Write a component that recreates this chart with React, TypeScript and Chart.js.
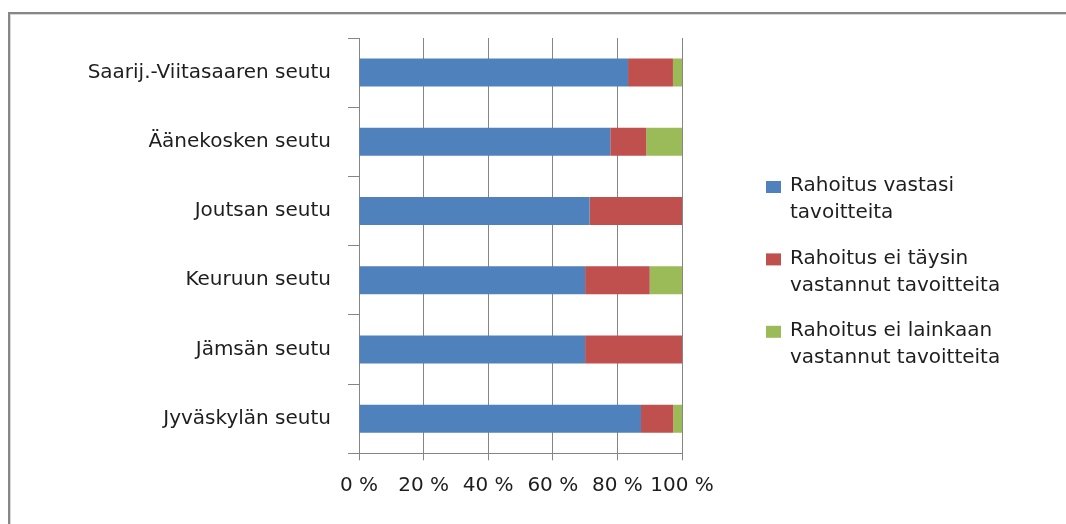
import React, { useEffect, useRef } from "react";
import { Chart, registerables } from "chart.js";

Chart.register(...registerables);

const categories = [
  "Saarij.-Viitasaaren seutu",
  "Äänekosken seutu",
  "Joutsan seutu",
  "Keuruun seutu",
  "Jämsän seutu",
  "Jyväskylän seutu",
];
const seriesNames = [
  "Rahoitus vastasi tavoitteita",
  "Rahoitus ei täysin vastannut tavoitteita",
  "Rahoitus ei lainkaan vastannut tavoitteita",
];
const legendLines = [
  ["Rahoitus vastasi", "tavoitteita"],
  ["Rahoitus ei täysin", "vastannut tavoitteita"],
  ["Rahoitus ei lainkaan", "vastannut tavoitteita"],
];
const metValues = [83.3, 77.8, 71.4, 70.0, 70.0, 87.3];
const partlyValues = [13.9, 11.1, 28.6, 20.0, 30.0, 10.0];
const notAtAllValues = [2.8, 11.1, 0, 10.0, 0, 2.7];
const xTickValues = [0, 20, 40, 60, 80, 100];
const seriesColors = ["#4F81BD", "#C0504D", "#9BBB59"];

const FONT = "'DejaVu Sans', sans-serif";
const TEXT = "#1e1e1e";
const GRID = "#858585";
const W = 1058;
const H = 516;

const sideLegend = {
  id: "sideLegend",
  afterDraw(chart: any) {
    const ctx = chart.ctx;
    const area = chart.chartArea;
    const boxX = area.right + 84;
    const textX = boxX + 24;
    const firstY = 178;
    const itemGap = 72.4;
    const lineGap = 27;
    ctx.save();
    ctx.font = `20px ${FONT}`;
    ctx.textBaseline = "middle";
    ctx.textAlign = "left";
    chart.data.datasets.forEach((ds: any, i: number) => {
      const cy = firstY + i * itemGap;
      ctx.fillStyle = ds.backgroundColor;
      ctx.fillRect(boxX, cy - 5, 15, 12);
      ctx.fillStyle = TEXT;
      const lines = legendLines[i] || [ds.label];
      lines.forEach((ln: string, j: number) => {
        ctx.fillText(ln, textX, cy + j * lineGap);
      });
    });
    ctx.restore();
  },
};

export default function App() {
  const ref = useRef<HTMLCanvasElement | null>(null);

  useEffect(() => {
    if (!ref.current) return;
    const seriesValues = [metValues, partlyValues, notAtAllValues];
    const chart = new Chart(ref.current, {
      type: "bar",
      data: {
        labels: categories,
        datasets: seriesValues.map((vals, i) => ({
          label: seriesNames[i],
          data: vals,
          backgroundColor: seriesColors[i],
          borderWidth: 0,
          categoryPercentage: 1,
          barPercentage: 0.405,
        })),
      },
      options: {
        indexAxis: "y",
        responsive: false,
        animation: false,
        layout: { padding: { top: 30, right: 384, left: 0, bottom: 0 } },
        plugins: {
          legend: { display: false },
          tooltip: { enabled: false },
          title: { display: false },
        },
        scales: {
          x: {
            stacked: true,
            min: 0,
            max: 100,
            afterBuildTicks: (scale: any) => {
              scale.ticks = xTickValues.map((v) => ({ value: v }));
            },
            afterFit: (scale: any) => {
              scale.height = 70.7;
            },
            ticks: {
              autoSkip: false,
              maxRotation: 0,
              minRotation: 0,
              padding: 13,
              color: TEXT,
              font: { family: FONT, size: 20 },
              callback: (v: any) => `${v} %`,
            },
            grid: {
              color: GRID,
              lineWidth: 1,
              drawTicks: true,
              tickLength: 7,
            },
            border: { display: true, color: GRID, width: 1 },
          },
          y: {
            stacked: true,
            afterFit: (scale: any) => {
              scale.width = 351;
            },
            ticks: {
              padding: 17,
              color: TEXT,
              font: { family: FONT, size: 20 },
            },
            grid: {
              offset: true,
              drawOnChartArea: false,
              drawTicks: true,
              tickLength: 11,
              color: GRID,
              lineWidth: 1,
            },
            border: { display: true, color: GRID, width: 1 },
          },
        },
      },
      plugins: [sideLegend],
    } as any);
    return () => chart.destroy();
  }, []);

  return (
    <div>
      <div
        style={{
          position: "fixed",
          left: 8,
          top: 12,
          width: 1400,
          height: 900,
          borderTop: "2px solid #878787",
          borderLeft: "2px solid #878787",
          boxShadow: "inset 1px 1px 0 #d6d6d6",
          boxSizing: "border-box",
          background: "#ffffff",
        }}
      />
      <canvas
        ref={ref}
        width={W}
        height={H}
        style={{ position: "fixed", left: 8, top: 8, width: W, height: H }}
      />
    </div>
  );
}
